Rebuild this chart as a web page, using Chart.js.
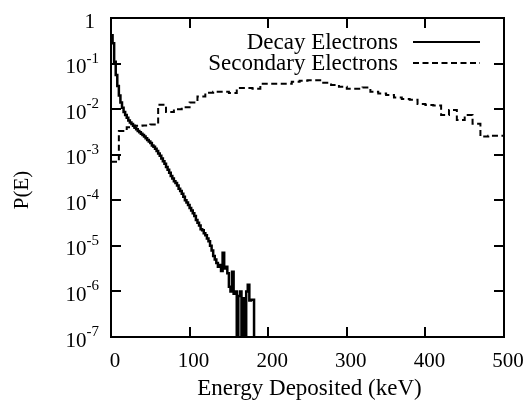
<!DOCTYPE html>
<html>
<head>
<meta charset="utf-8">
<script src="https://cdn.jsdelivr.net/npm/chart.js@4.4.0/dist/chart.umd.min.js"></script>
<style>
  html, body { margin: 0; padding: 0; background: #fff; }
  #wrap { width: 527px; height: 404px; position: relative; }
</style>
</head>
<body>
<div id="wrap"><canvas id="myChart"></canvas></div>
<script>
// empty histogram bins: drawn below the axis floor so the step drops to the bottom
const EMPTY = 1e-9;

// decay electrons, 2 keV bins starting at 0 keV
const decayBinWidth = 2;
const decayValues = [
  0.42, 0.28, 0.11, 0.056, 0.032, 0.020, 0.014, 0.0107, 8.7e-3, 7.4e-3,
  6.5e-3, 5.6e-3, 5.1e-3, 4.7e-3, 4.3e-3, 3.9e-3, 3.6e-3, 3.3e-3, 3.1e-3, 2.9e-3,
  2.7e-3, 2.5e-3, 2.3e-3, 2.1e-3, 1.95e-3, 1.8e-3, 1.6e-3, 1.5e-3, 1.35e-3, 1.2e-3,
  1.07e-3, 9.5e-4, 8.3e-4, 7.2e-4, 6.3e-4, 5.4e-4, 4.7e-4, 4.0e-4, 3.4e-4, 3.0e-4,
  2.6e-4, 2.4e-4, 2.1e-4, 1.8e-4, 1.6e-4, 1.4e-4, 1.2e-4, 1.0e-4, 8.9e-5, 7.9e-5,
  6.8e-5, 6.0e-5, 5.2e-5, 4.5e-5, 3.7e-5, 3.2e-5, 2.8e-5, 2.3e-5, 2.2e-5, 1.9e-5,
  1.7e-5, 1.45e-5, 1.26e-5, 1.0e-5, 7.9e-6, 6.0e-6, 5.0e-6, 4.2e-6, 3.5e-6, 3.8e-6,
  2.8e-6, 7.1e-6, 3.2e-6, 3.5e-6, 2.5e-6, 1.26e-6, 1.0e-6, 2.7e-6, 8.9e-7, 1.0e-6,
  EMPTY, 7.9e-7, 1.0e-6, EMPTY, 7.1e-7, EMPTY, 1.0e-6, 1.4e-6, 6.3e-7, 6.6e-7,
  6.6e-7, EMPTY
];

// secondary electrons, 10 keV bins starting at 0 keV
const secondaryBinWidth = 10;
const secondaryValues = [
  7.0e-4, 3.3e-3, 4.0e-3, 4.3e-3, 4.4e-3, 4.6e-3, 1.25e-2, 8.7e-3, 1.0e-2, 1.1e-2,
  1.4e-2, 1.9e-2, 2.3e-2, 2.4e-2, 2.4e-2, 2.25e-2, 2.9e-2, 2.9e-2, 2.8e-2, 3.6e-2,
  3.6e-2, 3.6e-2, 3.6e-2, 4.0e-2, 4.2e-2, 4.3e-2, 4.3e-2, 3.8e-2, 3.4e-2, 3.1e-2,
  2.8e-2, 2.8e-2, 3.0e-2, 2.4e-2, 2.2e-2, 2.05e-2, 1.8e-2, 1.67e-2, 1.6e-2, 1.3e-2,
  1.24e-2, 1.2e-2, 7.4e-3, 9.6e-3, 5.8e-3, 7.4e-3, 4.8e-3, 2.5e-3, 2.6e-3, 2.6e-3
];

const seriesNames = ['Decay Electrons', 'Secondary Electrons'];
const xTicks = [0, 100, 200, 300, 400, 500];
const yTicks = [1, 1e-1, 1e-2, 1e-3, 1e-4, 1e-5, 1e-6, 1e-7];
const yTickLabels = [['1', ''], ['10', '-1'], ['10', '-2'], ['10', '-3'],
                     ['10', '-4'], ['10', '-5'], ['10', '-6'], ['10', '-7']];
const xTitle = 'Energy Deposited (keV)';
const yTitle = 'P(E)';

const FONT = '"Liberation Serif", "DejaVu Serif", serif';

// histogram -> step points at bin edges, closing edge repeats the last bin
function binsToSteps(values, width) {
  const pts = values.map((v, i) => ({ x: i * width, y: v }));
  pts.push({ x: values.length * width, y: values[values.length - 1] });
  return pts;
}

const decorPlugin = {
  id: 'decor',
  afterDatasetsDraw(chart) {
    const { ctx, chartArea: a, scales: { x, y } } = chart;
    ctx.save();
    ctx.strokeStyle = '#000';
    ctx.fillStyle = '#000';

    // frame
    ctx.lineWidth = 2;
    ctx.strokeRect(a.left, a.top, a.right - a.left, a.bottom - a.top);

    // inward ticks, mirrored
    const tl = 10;
    ctx.beginPath();
    xTicks.forEach(v => {
      const px = Math.round(x.getPixelForValue(v));
      ctx.moveTo(px, a.bottom); ctx.lineTo(px, a.bottom - tl);
      ctx.moveTo(px, a.top); ctx.lineTo(px, a.top + tl);
    });
    yTicks.forEach(v => {
      const py = Math.round(y.getPixelForValue(v));
      ctx.moveTo(a.left, py); ctx.lineTo(a.left + tl, py);
      ctx.moveTo(a.right, py); ctx.lineTo(a.right - tl, py);
    });
    ctx.stroke();

    // x tick labels
    ctx.font = '21px ' + FONT;
    ctx.textAlign = 'center';
    ctx.textBaseline = 'middle';
    xTicks.forEach(v => {
      ctx.fillText(String(v), x.getPixelForValue(v) + 4, 361);
    });

    // y tick labels with superscript exponents
    const rightEdge = 99;
    yTicks.forEach((v, i) => {
      const py = y.getPixelForValue(v) + 4;
      const [base, sup] = yTickLabels[i];
      ctx.textBaseline = 'middle';
      ctx.textAlign = 'right';
      let edge = rightEdge;
      if (sup) {
        ctx.font = '15px ' + FONT;
        const sw = ctx.measureText(sup).width;
        ctx.fillText(sup, edge, py - 9);
        edge -= sw;
      } else {
        edge -= 4;
      }
      ctx.font = '21px ' + FONT;
      ctx.fillText(base, edge, py);
    });

    // axis titles
    ctx.font = '23px ' + FONT;
    ctx.textAlign = 'center';
    ctx.fillText(xTitle, (a.left + a.right) / 2 + 2, 389);
    ctx.save();
    ctx.translate(22, 190);
    ctx.rotate(-Math.PI / 2);
    ctx.font = '21px ' + FONT;
    ctx.fillText(yTitle, 0, 0);
    ctx.restore();

    // key, top right inside the plot
    ctx.font = '23px ' + FONT;
    const rows = [{ y: 42, dash: [] }, { y: 63, dash: [6, 3.5] }];
    rows.forEach((r, i) => {
      ctx.textAlign = 'right';
      ctx.textBaseline = 'middle';
      ctx.fillText(seriesNames[i], 398, r.y + 1);
      ctx.beginPath();
      ctx.lineWidth = 2;
      ctx.setLineDash(r.dash);
      ctx.moveTo(413, r.y);
      ctx.lineTo(480, r.y);
      ctx.stroke();
    });
    ctx.restore();
  }
};

const ctx = document.getElementById('myChart').getContext('2d');
new Chart(ctx, {
  type: 'line',
  data: {
    datasets: [
      {
        label: seriesNames[0],
        data: binsToSteps(decayValues, decayBinWidth),
        stepped: 'before',
        borderColor: '#000',
        borderWidth: 2.5,
        pointRadius: 0,
        fill: false,
        clip: 0
      },
      {
        label: seriesNames[1],
        data: binsToSteps(secondaryValues, secondaryBinWidth),
        stepped: 'before',
        borderColor: '#000',
        borderWidth: 2,
        borderDash: [6, 3.5],
        pointRadius: 0,
        fill: false,
        clip: 0
      }
    ]
  },
  options: {
    responsive: true,
    maintainAspectRatio: false,
    animation: false,
    layout: { padding: { left: 111, right: 23, top: 18, bottom: 67 } },
    plugins: { legend: { display: false }, tooltip: { enabled: false } },
    scales: {
      x: { type: 'linear', display: false, min: 0, max: 500 },
      y: { type: 'logarithmic', display: false, min: 1e-7, max: 1 }
    }
  },
  plugins: [decorPlugin]
});
</script>
</body>
</html>
